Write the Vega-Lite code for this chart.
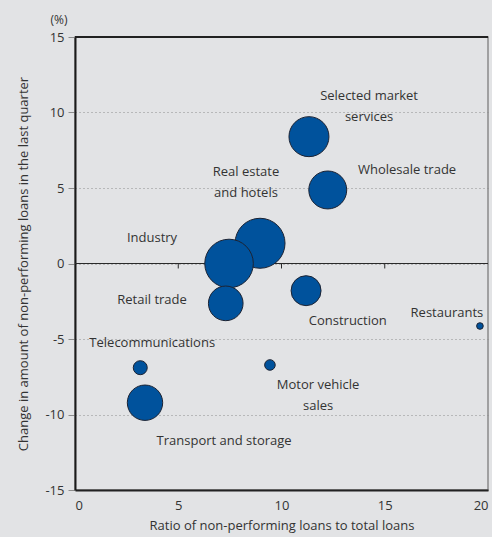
{
  "$schema": "https://vega.github.io/schema/vega-lite/v6.json",
  "autosize": "none",
  "width": 413,
  "height": 453,
  "padding": {"left": 75, "top": 37, "right": 4, "bottom": 47},
  "background": "#e2e3e5",
  "config": {
    "font": "Open Sans",
    "view": {"stroke": "#8a8a8a", "strokeWidth": 1.5},
    "axis": {"labelFont": "Open Sans", "titleFont": "Open Sans", "labelColor": "#333", "titleColor": "#333", "titleFontWeight": "normal"}
  },
  "datasets": {
    "sectors": [
      {"sector": "Selected market services", "ratio": 11.33, "change": 8.40, "weight": 40},
      {"sector": "Wholesale trade", "ratio": 12.24, "change": 4.87, "weight": 36},
      {"sector": "Real estate and hotels", "ratio": 8.96, "change": 1.34, "weight": 62.5},
      {"sector": "Industry", "ratio": 7.46, "change": 0.0, "weight": 59},
      {"sector": "Retail trade", "ratio": 7.30, "change": -2.64, "weight": 30},
      {"sector": "Construction", "ratio": 11.19, "change": -1.80, "weight": 22.5},
      {"sector": "Restaurants", "ratio": 19.61, "change": -4.14, "weight": 1.1},
      {"sector": "Telecommunications", "ratio": 3.16, "change": -6.90, "weight": 4.9},
      {"sector": "Motor vehicle sales", "ratio": 9.44, "change": -6.72, "weight": 2.8},
      {"sector": "Transport and storage", "ratio": 3.39, "change": -9.22, "weight": 31.3}
    ],
    "labels": [
      {"label": "Selected market\nservices", "lx": 14.24, "ly": 11.09},
      {"label": "Wholesale trade", "lx": 16.08, "ly": 6.19},
      {"label": "Real estate\nand hotels", "lx": 8.28, "ly": 6.06},
      {"label": "Industry", "lx": 3.73, "ly": 1.69},
      {"label": "Retail trade", "lx": 3.73, "ly": -2.42},
      {"label": "Construction", "lx": 13.21, "ly": -3.79},
      {"label": "Restaurants", "lx": 18.01, "ly": -3.28},
      {"label": "Telecommunications", "lx": 3.74, "ly": -5.25},
      {"label": "Motor vehicle\nsales", "lx": 11.77, "ly": -8.05},
      {"label": "Transport and storage", "lx": 7.22, "ly": -11.73}
    ],
    "zeroTicks": [{"t": 5}, {"t": 10}, {"t": 15}]
  },
  "layer": [
    {
      "data": {"name": "sectors"},
      "mark": {"type": "rule", "color": "#2a2a2a", "strokeWidth": 1.2},
      "encoding": {"y": {"datum": 0}}
    },
    {
      "data": {"name": "zeroTicks"},
      "mark": {"type": "rule", "color": "#2a2a2a", "strokeWidth": 1},
      "encoding": {
        "x": {"field": "t", "type": "quantitative"},
        "y": {"datum": 0},
        "y2": {"datum": -0.33}
      }
    },
    {
      "data": {"name": "sectors"},
      "mark": {"type": "rule", "color": "#222", "strokeWidth": 1.5},
      "encoding": {"y": {"datum": 15}}
    },
    {
      "data": {"name": "sectors"},
      "mark": {"type": "circle", "color": "#00529c", "opacity": 1, "stroke": "#1c2333", "strokeWidth": 1},
      "encoding": {
        "x": {
          "field": "ratio", "type": "quantitative",
          "scale": {"domain": [0, 20], "nice": false, "zero": false},
          "axis": {
            "values": [0, 5, 10, 15, 20], "ticks": false, "grid": false,
            "domainColor": "#222", "domainWidth": 2,
            "labelFontSize": 13, "labelPadding": 9,
            "title": "Ratio of non-performing loans to total loans",
            "titleFontSize": 13, "titlePadding": 7
          }
        },
        "y": {
          "field": "change", "type": "quantitative",
          "scale": {"domain": [-15, 15], "nice": false, "zero": false},
          "axis": {
            "values": [-15, -10, -5, 0, 5, 10, 15],
            "labelExpr": "datum.value < 0 ? '-' + abs(datum.value) : '' + datum.value",
            "grid": true, "gridColor": "#8c8c8c", "gridDash": [1, 3], "gridWidth": 1,
            "tickColor": "#8c8c8c", "tickSize": 7,
            "domainColor": "#1a1a1a", "domainWidth": 2,
            "labelFontSize": 13, "labelPadding": 4,
            "title": "Change in amount of non-performing loans in the last quarter",
            "titleFontSize": 13, "titlePadding": 14
          }
        },
        "size": {
          "field": "weight", "type": "quantitative",
          "scale": {"domain": [0, 62.5], "range": [0, 2500], "zero": true},
          "legend": null
        }
      }
    },
    {
      "data": {"name": "labels"},
      "mark": {"type": "text", "font": "Open Sans", "fontSize": 13, "color": "#333", "align": "center", "baseline": "middle", "lineHeight": 21, "lineBreak": "\n"},
      "encoding": {
        "x": {"field": "lx", "type": "quantitative"},
        "y": {"field": "ly", "type": "quantitative"},
        "text": {"field": "label"}
      }
    },
    {
      "data": {"values": [{"unit": "(%)"}]},
      "mark": {"type": "text", "font": "Open Sans", "fontSize": 12, "color": "#333", "align": "center", "baseline": "middle", "dx": -16, "dy": -17},
      "encoding": {
        "x": {"datum": 0},
        "y": {"datum": 15},
        "text": {"field": "unit"}
      }
    }
  ]
}
